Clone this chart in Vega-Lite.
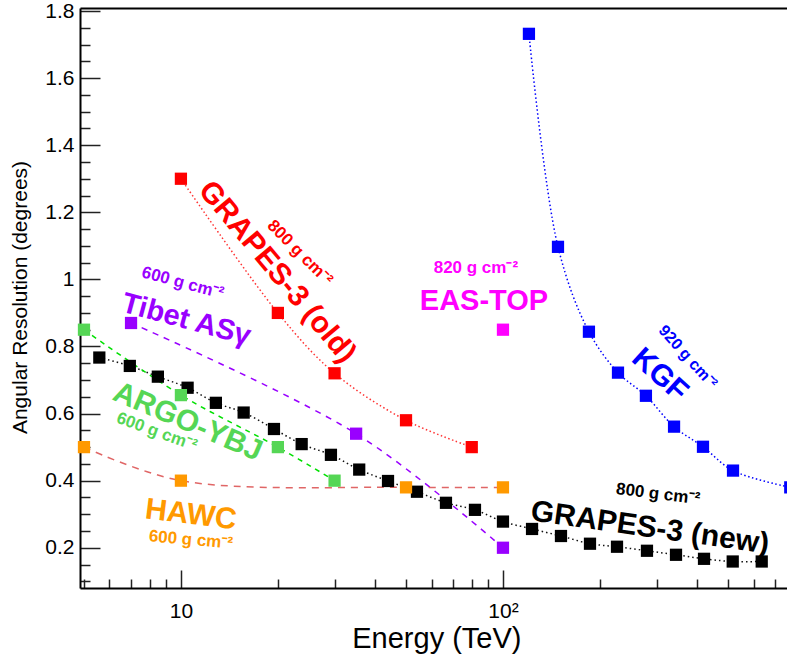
{
  "$schema": "https://vega.github.io/schema/vega-lite/v6.json",
  "width": 707,
  "height": 580,
  "autosize": {"type": "none"},
  "padding": {"left": 80, "top": 8, "right": 0, "bottom": 69},
  "background": "white",
  "config": {"view": {"stroke": null}, "font": "Liberation Sans"},
  "datasets": {
    "series": [
      {"exp": "GRAPES-3 (new)", "E": 5.58, "res": 0.767},
      {"exp": "GRAPES-3 (new)", "E": 6.94, "res": 0.742},
      {"exp": "GRAPES-3 (new)", "E": 8.48, "res": 0.71},
      {"exp": "GRAPES-3 (new)", "E": 10.49, "res": 0.677},
      {"exp": "GRAPES-3 (new)", "E": 12.84, "res": 0.632},
      {"exp": "GRAPES-3 (new)", "E": 15.66, "res": 0.603},
      {"exp": "GRAPES-3 (new)", "E": 19.45, "res": 0.554},
      {"exp": "GRAPES-3 (new)", "E": 23.71, "res": 0.509},
      {"exp": "GRAPES-3 (new)", "E": 29.23, "res": 0.477},
      {"exp": "GRAPES-3 (new)", "E": 35.78, "res": 0.433},
      {"exp": "GRAPES-3 (new)", "E": 43.96, "res": 0.399},
      {"exp": "GRAPES-3 (new)", "E": 54.07, "res": 0.367},
      {"exp": "GRAPES-3 (new)", "E": 66.53, "res": 0.334},
      {"exp": "GRAPES-3 (new)", "E": 81.86, "res": 0.313},
      {"exp": "GRAPES-3 (new)", "E": 100, "res": 0.278},
      {"exp": "GRAPES-3 (new)", "E": 123.1, "res": 0.256},
      {"exp": "GRAPES-3 (new)", "E": 151.4, "res": 0.235},
      {"exp": "GRAPES-3 (new)", "E": 186.3, "res": 0.212},
      {"exp": "GRAPES-3 (new)", "E": 226, "res": 0.203},
      {"exp": "GRAPES-3 (new)", "E": 280, "res": 0.191},
      {"exp": "GRAPES-3 (new)", "E": 344.6, "res": 0.179},
      {"exp": "GRAPES-3 (new)", "E": 421, "res": 0.167},
      {"exp": "GRAPES-3 (new)", "E": 516.9, "res": 0.159},
      {"exp": "GRAPES-3 (new)", "E": 636, "res": 0.159},
      {"exp": "GRAPES-3 (old)", "E": 10, "res": 1.3},
      {"exp": "GRAPES-3 (old)", "E": 20, "res": 0.9},
      {"exp": "GRAPES-3 (old)", "E": 30, "res": 0.72},
      {"exp": "GRAPES-3 (old)", "E": 50, "res": 0.58},
      {"exp": "GRAPES-3 (old)", "E": 80, "res": 0.5},
      {"exp": "Tibet ASγ", "E": 7, "res": 0.87},
      {"exp": "Tibet ASγ", "E": 35, "res": 0.54},
      {"exp": "Tibet ASγ", "E": 100, "res": 0.2},
      {"exp": "ARGO-YBJ", "E": 5, "res": 0.85},
      {"exp": "ARGO-YBJ", "E": 10, "res": 0.655},
      {"exp": "ARGO-YBJ", "E": 20, "res": 0.5},
      {"exp": "ARGO-YBJ", "E": 30, "res": 0.4},
      {"exp": "HAWC", "E": 5, "res": 0.5},
      {"exp": "HAWC", "E": 10, "res": 0.4},
      {"exp": "HAWC", "E": 50, "res": 0.38},
      {"exp": "HAWC", "E": 100, "res": 0.38},
      {"exp": "EAS-TOP", "E": 100, "res": 0.85},
      {"exp": "KGF", "E": 120.4, "res": 1.732},
      {"exp": "KGF", "E": 148.2, "res": 1.097},
      {"exp": "KGF", "E": 184.9, "res": 0.844},
      {"exp": "KGF", "E": 227.6, "res": 0.722},
      {"exp": "KGF", "E": 277.9, "res": 0.653},
      {"exp": "KGF", "E": 339.8, "res": 0.561},
      {"exp": "KGF", "E": 417.9, "res": 0.501},
      {"exp": "KGF", "E": 518, "res": 0.43},
      {"exp": "KGF", "E": 780, "res": 0.38}
    ],
    "labels": [
      {"id": "g3old", "text": "GRAPES-3 (old)", "E": 19.9, "res": 1.022},
      {"id": "g3old_d", "text": "800 g cm⁻²", "E": 23.4, "res": 1.079},
      {"id": "tibet", "text": "Tibet ASγ", "E": 10.4, "res": 0.88},
      {"id": "tibet_d", "text": "600 g cm⁻²", "E": 10.14, "res": 0.989},
      {"id": "argo", "text": "ARGO-YBJ", "E": 10.5, "res": 0.575},
      {"id": "argo_d", "text": "600 g cm⁻²", "E": 8.42, "res": 0.545},
      {"id": "hawc", "text": "HAWC", "E": 10.74, "res": 0.298},
      {"id": "hawc_d", "text": "600 g cm⁻²", "E": 10.74, "res": 0.223},
      {"id": "eastop", "text": "EAS-TOP", "E": 87.3, "res": 0.936},
      {"id": "eastop_d", "text": "820 g cm⁻²", "E": 82.4, "res": 1.034},
      {"id": "kgf", "text": "KGF", "E": 307, "res": 0.715},
      {"id": "kgf_d", "text": "920 g cm⁻²", "E": 375, "res": 0.769},
      {"id": "g3new", "text": "GRAPES-3 (new)", "E": 286, "res": 0.259},
      {"id": "g3new_d", "text": "800 g cm⁻²", "E": 303, "res": 0.36}
    ]
  },
  "data": {"name": "series"},
  "resolve": {"axis": {"x": "independent", "y": "independent"}},
  "layer": [
    {
      "mark": {"type": "point", "opacity": 0},
      "encoding": {
        "x": {"field": "E", "type": "quantitative", "scale": {"type": "log", "domain": [4.86, 762], "nice": false},
          "axis": {"orient": "bottom", "values": [5, 6, 7, 8, 9, 20, 30, 40, 50, 60, 70, 80, 90, 200, 300, 400, 500, 600, 700], "tickSize": -9, "tickWidth": 1.5, "tickColor": "#222222", "labels": false, "domain": false, "grid": false, "title": null}},
        "y": {"field": "res", "type": "quantitative", "scale": {"domain": [0.08, 1.809], "nice": false, "zero": false},
          "axis": {"orient": "left", "values": [0.1, 0.15, 0.25, 0.3, 0.35, 0.45, 0.5, 0.55, 0.65, 0.7, 0.75, 0.85, 0.9, 0.95, 1.05, 1.1, 1.15, 1.25, 1.3, 1.35, 1.45, 1.5, 1.55, 1.65, 1.7, 1.75], "tickSize": -10, "tickWidth": 1.5, "tickColor": "#222222", "labels": false, "domain": false, "grid": false, "title": null}}
      }
    },
    {
      "mark": {"type": "point", "opacity": 0},
      "encoding": {
        "x": {"field": "E", "type": "quantitative", "scale": {"type": "log", "domain": [4.86, 762], "nice": false},
          "axis": {"orient": "top", "ticks": false, "labels": false, "domain": true, "domainColor": "#000000", "domainWidth": 2, "grid": false, "title": null}},
        "y": {"field": "res", "type": "quantitative", "scale": {"domain": [0.08, 1.809], "nice": false, "zero": false}, "axis": null}
      }
    },
    {
      "layer": [
        {
          "transform": [{"filter": "datum.exp != 'EAS-TOP'"}],
          "mark": {"type": "line", "interpolate": "catmull-rom", "strokeWidth": 1.5},
          "encoding": {
            "x": {"field": "E", "type": "quantitative", "scale": {"type": "log", "domain": [4.86, 762], "nice": false},
              "axis": {"orient": "bottom", "values": [10, 100], "labelExpr": "datum.value == 10 ? '10' : '10²'", "tickSize": -18, "tickWidth": 1.5, "tickColor": "#222222", "labelPadding": 30, "labelFontSize": 21, "labelColor": "#000000", "labelFont": "Liberation Sans", "domain": true, "domainColor": "#000000", "domainWidth": 2, "grid": false, "title": "Energy (TeV)", "titleFontSize": 29, "titleFontWeight": "normal", "titleColor": "#000000", "titleFont": "Liberation Sans", "titleAlign": "right", "titleBaseline": "alphabetic", "titleX": 441, "titleY": 59, "titleAnchor": "end"}},
            "y": {"field": "res", "type": "quantitative", "scale": {"domain": [0.08, 1.809], "nice": false, "zero": false},
              "axis": {"orient": "left", "values": [0.2, 0.4, 0.6, 0.8, 1, 1.2, 1.4, 1.6, 1.8], "labelExpr": "datum.value == 1 ? '1' : format(datum.value, '.1f')", "tickSize": -20, "tickWidth": 1.5, "tickColor": "#222222", "labelPadding": 26, "labelFontSize": 21, "labelColor": "#000000", "labelFont": "Liberation Sans", "domain": true, "domainColor": "#000000", "domainWidth": 2, "grid": false, "title": "Angular Resolution (degrees)", "titleFontSize": 21, "titleFontWeight": "normal", "titleColor": "#000000", "titleFont": "Liberation Sans", "titleAlign": "center", "titleBaseline": "middle", "titleAngle": 270, "titleX": -60, "titleY": 289}},
            "stroke": {"field": "exp", "type": "nominal", "legend": null,
              "scale": {"domain": ["GRAPES-3 (new)", "GRAPES-3 (old)", "Tibet ASγ", "ARGO-YBJ", "HAWC", "KGF"], "range": ["#111111", "#ff3333", "#9900ff", "#00e000", "#e06666", "#0000ff"]}},
            "strokeDash": {"field": "exp", "type": "nominal", "legend": null,
              "scale": {"domain": ["GRAPES-3 (new)", "GRAPES-3 (old)", "Tibet ASγ", "ARGO-YBJ", "HAWC", "KGF"], "range": [[1.5, 3], [1.5, 2.5], [6, 6], [5, 5], [7, 6], [1.5, 2.5]]}}
          }
        },
        {
          "mark": {"type": "point", "shape": "square", "filled": true, "size": 150, "opacity": 1},
          "encoding": {
            "x": {"field": "E", "type": "quantitative"},
            "y": {"field": "res", "type": "quantitative"},
            "fill": {"field": "exp", "type": "nominal", "legend": null,
              "scale": {"domain": ["GRAPES-3 (new)", "GRAPES-3 (old)", "Tibet ASγ", "ARGO-YBJ", "HAWC", "EAS-TOP", "KGF"], "range": ["#000000", "#ff0000", "#9900ff", "#55d655", "#ff9900", "#ff00ff", "#0000ff"]}}
          }
        },
        {"data": {"name": "labels"}, "transform": [{"filter": "datum.id == 'g3old'"}],
          "mark": {"type": "text", "color": "#ff0000", "fontWeight": "bold", "fontSize": 30, "angle": 50, "align": "center", "baseline": "middle"},
          "encoding": {"x": {"field": "E", "type": "quantitative"}, "y": {"field": "res", "type": "quantitative"}, "text": {"field": "text"}}},
        {"data": {"name": "labels"}, "transform": [{"filter": "datum.id == 'g3old_d'"}],
          "mark": {"type": "text", "color": "#ff0000", "fontWeight": "bold", "fontSize": 17, "angle": 45, "align": "center", "baseline": "middle"},
          "encoding": {"x": {"field": "E", "type": "quantitative"}, "y": {"field": "res", "type": "quantitative"}, "text": {"field": "text"}}},
        {"data": {"name": "labels"}, "transform": [{"filter": "datum.id == 'tibet'"}],
          "mark": {"type": "text", "color": "#9900ff", "fontWeight": "bold", "fontSize": 29, "angle": 15, "align": "center", "baseline": "middle"},
          "encoding": {"x": {"field": "E", "type": "quantitative"}, "y": {"field": "res", "type": "quantitative"}, "text": {"field": "text"}}},
        {"data": {"name": "labels"}, "transform": [{"filter": "datum.id == 'tibet_d'"}],
          "mark": {"type": "text", "color": "#9900ff", "fontWeight": "bold", "fontSize": 17, "angle": 15, "align": "center", "baseline": "middle"},
          "encoding": {"x": {"field": "E", "type": "quantitative"}, "y": {"field": "res", "type": "quantitative"}, "text": {"field": "text"}}},
        {"data": {"name": "labels"}, "transform": [{"filter": "datum.id == 'argo'"}],
          "mark": {"type": "text", "color": "#55d655", "fontWeight": "bold", "fontSize": 30, "angle": 23, "align": "center", "baseline": "middle"},
          "encoding": {"x": {"field": "E", "type": "quantitative"}, "y": {"field": "res", "type": "quantitative"}, "text": {"field": "text"}}},
        {"data": {"name": "labels"}, "transform": [{"filter": "datum.id == 'argo_d'"}],
          "mark": {"type": "text", "color": "#55d655", "fontWeight": "bold", "fontSize": 17, "angle": 20, "align": "center", "baseline": "middle"},
          "encoding": {"x": {"field": "E", "type": "quantitative"}, "y": {"field": "res", "type": "quantitative"}, "text": {"field": "text"}}},
        {"data": {"name": "labels"}, "transform": [{"filter": "datum.id == 'hawc'"}],
          "mark": {"type": "text", "color": "#ff9900", "fontWeight": "bold", "fontSize": 30, "angle": 7, "align": "center", "baseline": "middle"},
          "encoding": {"x": {"field": "E", "type": "quantitative"}, "y": {"field": "res", "type": "quantitative"}, "text": {"field": "text"}}},
        {"data": {"name": "labels"}, "transform": [{"filter": "datum.id == 'hawc_d'"}],
          "mark": {"type": "text", "color": "#ff9900", "fontWeight": "bold", "fontSize": 17, "angle": 5, "align": "center", "baseline": "middle"},
          "encoding": {"x": {"field": "E", "type": "quantitative"}, "y": {"field": "res", "type": "quantitative"}, "text": {"field": "text"}}},
        {"data": {"name": "labels"}, "transform": [{"filter": "datum.id == 'eastop'"}],
          "mark": {"type": "text", "color": "#ff00ff", "fontWeight": "bold", "fontSize": 29, "angle": 0, "align": "center", "baseline": "middle"},
          "encoding": {"x": {"field": "E", "type": "quantitative"}, "y": {"field": "res", "type": "quantitative"}, "text": {"field": "text"}}},
        {"data": {"name": "labels"}, "transform": [{"filter": "datum.id == 'eastop_d'"}],
          "mark": {"type": "text", "color": "#ff00ff", "fontWeight": "bold", "fontSize": 17, "angle": 0, "align": "center", "baseline": "middle"},
          "encoding": {"x": {"field": "E", "type": "quantitative"}, "y": {"field": "res", "type": "quantitative"}, "text": {"field": "text"}}},
        {"data": {"name": "labels"}, "transform": [{"filter": "datum.id == 'kgf'"}],
          "mark": {"type": "text", "color": "#0000ff", "fontWeight": "bold", "fontSize": 30, "angle": 42, "align": "center", "baseline": "middle"},
          "encoding": {"x": {"field": "E", "type": "quantitative"}, "y": {"field": "res", "type": "quantitative"}, "text": {"field": "text"}}},
        {"data": {"name": "labels"}, "transform": [{"filter": "datum.id == 'kgf_d'"}],
          "mark": {"type": "text", "color": "#0000ff", "fontWeight": "bold", "fontSize": 16, "angle": 48, "align": "center", "baseline": "middle"},
          "encoding": {"x": {"field": "E", "type": "quantitative"}, "y": {"field": "res", "type": "quantitative"}, "text": {"field": "text"}}},
        {"data": {"name": "labels"}, "transform": [{"filter": "datum.id == 'g3new'"}],
          "mark": {"type": "text", "color": "#000000", "fontWeight": "bold", "fontSize": 30, "angle": 8, "align": "center", "baseline": "middle"},
          "encoding": {"x": {"field": "E", "type": "quantitative"}, "y": {"field": "res", "type": "quantitative"}, "text": {"field": "text"}}},
        {"data": {"name": "labels"}, "transform": [{"filter": "datum.id == 'g3new_d'"}],
          "mark": {"type": "text", "color": "#000000", "fontWeight": "bold", "fontSize": 17, "angle": 7, "align": "center", "baseline": "middle"},
          "encoding": {"x": {"field": "E", "type": "quantitative"}, "y": {"field": "res", "type": "quantitative"}, "text": {"field": "text"}}}
      ]
    }
  ]
}
